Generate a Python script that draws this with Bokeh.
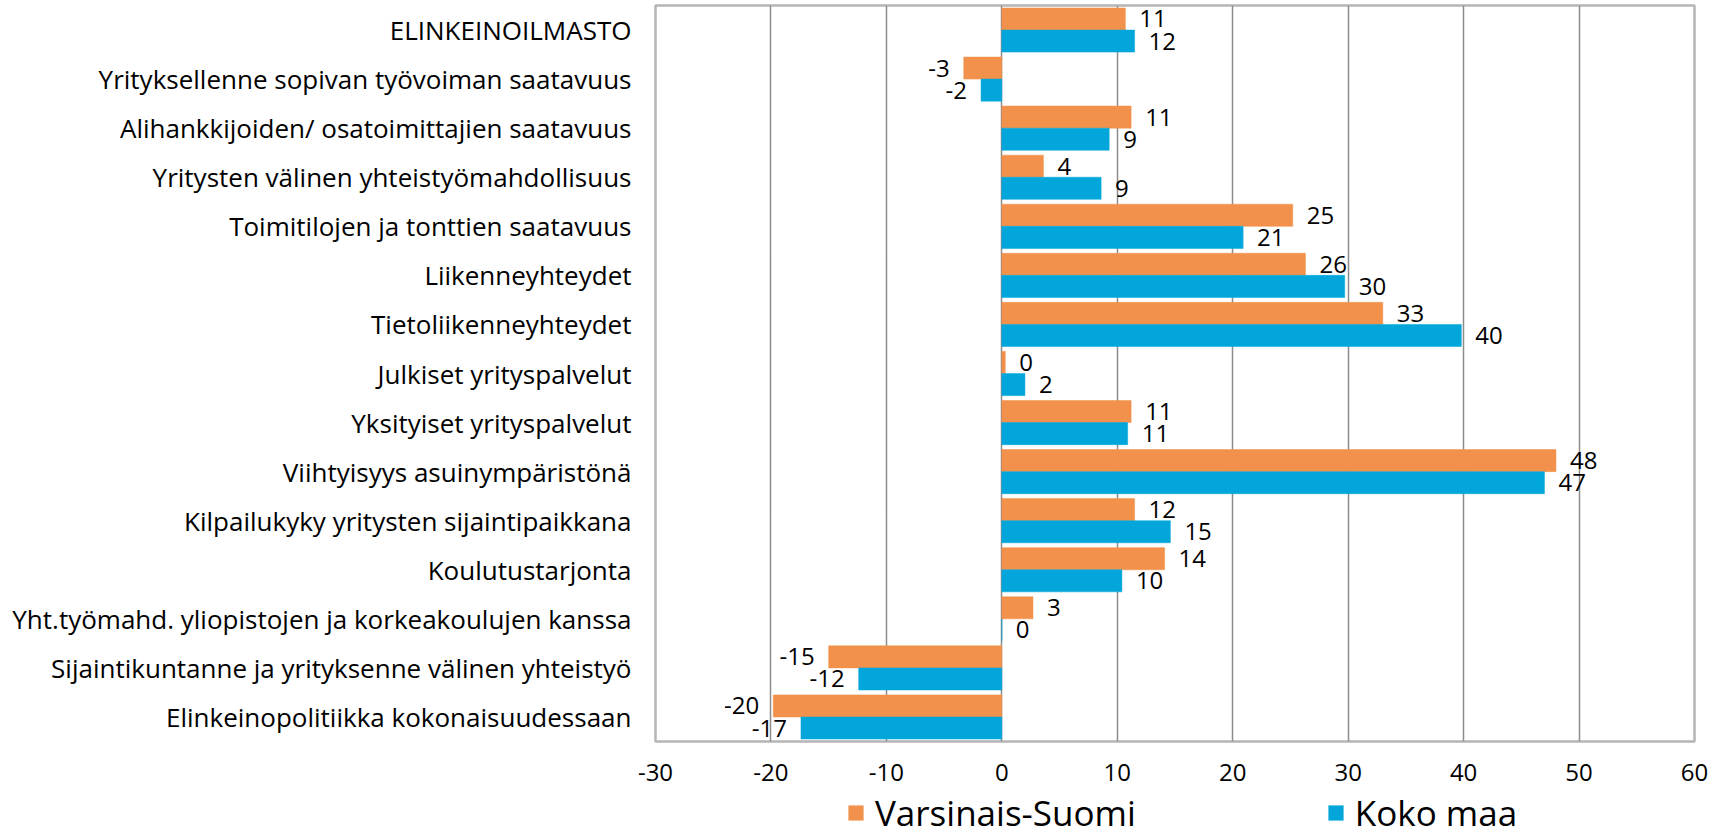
from bokeh.plotting import figure
from bokeh.layouts import column
from bokeh.models import (ColumnDataSource, FactorRange, Range1d, FixedTicker,
                          Legend, LegendItem)
from bokeh.transform import dodge
from bokeh.core.properties import value
from bokeh.embed import file_html
from bokeh.resources import INLINE

categories = [
    "ELINKEINOILMASTO",
    "Yrityksellenne sopivan työvoiman saatavuus",
    "Alihankkijoiden/ osatoimittajien saatavuus",
    "Yritysten välinen yhteistyömahdollisuus",
    "Toimitilojen ja tonttien saatavuus",
    "Liikenneyhteydet",
    "Tietoliikenneyhteydet",
    "Julkiset yrityspalvelut",
    "Yksityiset yrityspalvelut",
    "Viihtyisyys asuinympäristönä",
    "Kilpailukyky yritysten sijaintipaikkana",
    "Koulutustarjonta",
    "Yht.työmahd. yliopistojen ja korkeakoulujen kanssa",
    "Sijaintikuntanne ja yrityksenne välinen yhteistyö",
    "Elinkeinopolitiikka kokonaisuudessaan",
]
varsinais_suomi = [10.7, -3.3, 11.2, 3.6, 25.2, 26.3, 33.0, 0.3, 11.2, 48.0, 11.5, 14.1, 2.7, -15.0, -19.8]
koko_maa = [11.5, -1.8, 9.3, 8.6, 20.9, 29.7, 39.8, 2.0, 10.9, 47.0, 14.6, 10.4, 0.0, -12.4, -17.4]
vs_labels = ["11", "-3", "11", "4", "25", "26", "33", "0", "11", "48", "12", "14", "3", "-15", "-20"]
km_labels = ["12", "-2", "9", "9", "21", "30", "40", "2", "11", "47", "15", "10", "0", "-12", "-17"]
series_names = ["Varsinais-Suomi", "Koko maa"]
x_ticks = [-30, -20, -10, 0, 10, 20, 30, 40, 50, 60]

ORANGE = "#F2914B"
BLUE = "#02A6DB"
FONT = "Open Sans"
OFF = 14

src = ColumnDataSource(dict(
    cat=categories,
    vs=varsinais_suomi,
    km=koko_maa,
    vs_lab=vs_labels,
    km_lab=km_labels,
    vs_align=["left" if v >= 0 else "right" for v in varsinais_suomi],
    km_align=["left" if v >= 0 else "right" for v in koko_maa],
    vs_off=[OFF if v >= 0 else -OFF for v in varsinais_suomi],
    km_off=[OFF if v >= 0 else -OFF for v in koko_maa],
))

p = figure(frame_width=1039, frame_height=736,
           y_range=FactorRange(factors=categories[::-1]),
           x_range=Range1d(x_ticks[0], x_ticks[-1]),
           output_backend="svg", toolbar_location=None,
           min_border_left=655, min_border_right=31,
           min_border_top=5, min_border_bottom=55)

p.hbar(y=dodge("cat", 0.225, range=p.y_range), left=0, right="vs", height=0.45,
       fill_color=ORANGE, line_color=ORANGE, line_width=0.5, source=src)
p.hbar(y=dodge("cat", -0.225, range=p.y_range), left=0, right="km", height=0.45,
       fill_color=BLUE, line_color=BLUE, line_width=0.5, source=src)

p.text(x="vs", y=dodge("cat", 0.225, range=p.y_range), text="vs_lab",
       x_offset="vs_off", text_align="vs_align", text_baseline="middle",
       text_font=value(FONT), text_font_size="24px", text_color="#000000", source=src)
p.text(x="km", y=dodge("cat", -0.225, range=p.y_range), text="km_lab",
       x_offset="km_off", text_align="km_align", text_baseline="middle",
       text_font=value(FONT), text_font_size="24px", text_color="#000000", source=src)

p.xaxis.ticker = FixedTicker(ticks=x_ticks)
p.xaxis.major_label_overrides = {t: str(t) for t in x_ticks}
p.xgrid.ticker = FixedTicker(ticks=x_ticks)
p.xgrid.grid_line_color = "#8c8c8c"
p.xgrid.grid_line_width = 1.5
p.ygrid.grid_line_color = None
p.outline_line_color = "#b5b5b5"
p.outline_line_width = 2.5

for ax in (p.xaxis, p.yaxis):
    ax.axis_line_color = None
    ax.major_tick_line_color = None
    ax.minor_tick_line_color = None
    ax.major_tick_out = 0
    ax.major_tick_in = 0
    ax.major_label_text_font = FONT
    ax.major_label_text_color = "#000000"

p.xaxis.major_label_text_font_size = "24px"
p.xaxis.major_label_standoff = 22
p.yaxis.major_label_text_font_size = "26px"
p.yaxis.major_label_standoff = 24

# legend strip below the chart (slightly overlapping the empty bottom border of p)
lg = figure(frame_width=1039, frame_height=48,
            x_range=Range1d(0, 1), y_range=Range1d(0, 1),
            output_backend="svg", toolbar_location=None,
            min_border_left=655, min_border_right=31,
            min_border_top=0, min_border_bottom=0,
            margin=(-8, 0, 0, 0))
lg.axis.visible = False
lg.grid.grid_line_color = None
lg.outline_line_color = None
lg.background_fill_alpha = 0
lg.border_fill_alpha = 0
d1 = lg.hbar(y=[0.5], left=[0], right=[0], height=[0], fill_color=ORANGE, line_color=None)
d2 = lg.hbar(y=[0.5], left=[0], right=[0], height=[0], fill_color=BLUE, line_color=None)

legend = Legend(items=[LegendItem(label=series_names[0], renderers=[d1]),
                       LegendItem(label=series_names[1], renderers=[d2])],
                orientation="horizontal", location=(191, 0),
                label_text_font=FONT, label_text_font_size="35px",
                label_text_color="#000000",
                glyph_width=19, glyph_height=19, label_standoff=10,
                spacing=190, padding=0, margin=0,
                border_line_alpha=0, background_fill_alpha=0)
lg.add_layout(legend, "center")

layout = column(p, lg, spacing=0)
open("out.html", "w").write(file_html(layout, INLINE))
